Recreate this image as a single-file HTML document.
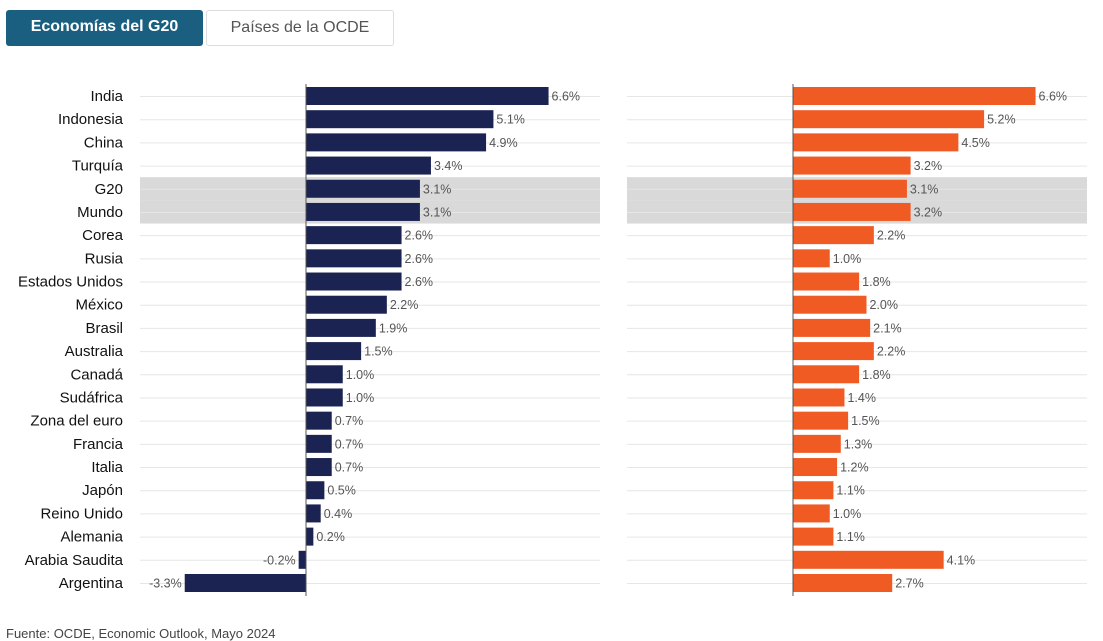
<!DOCTYPE html>
<html><head><meta charset="utf-8"><style>
body{margin:0;width:1103px;height:631px;overflow:hidden;background:#fff;font-family:"Liberation Sans",sans-serif;}
.tab{position:absolute;top:10px;height:36px;box-sizing:border-box;font-size:16px;font-weight:bold;line-height:33px;text-align:center;border-radius:3px;}
</style></head><body>
<div class="tab" style="left:6px;width:197px;background:#1b5f80;color:#fff;">Economías del G20</div>
<div class="tab" style="left:206px;width:188px;border:1px solid #ddd;color:#555;font-weight:normal;">Países de la OCDE</div>
<svg id="chart" width="1103" height="631" style="position:absolute;left:0;top:0"></svg>
<div style="position:absolute;left:6px;top:626px;font-size:13px;color:#444;">Fuente: OCDE, Economic Outlook, Mayo 2024</div>
<script>
const categories=["India","Indonesia","China","Turquía","G20","Mundo","Corea","Rusia","Estados Unidos","México","Brasil","Australia","Canadá","Sudáfrica","Zona del euro","Francia","Italia","Japón","Reino Unido","Alemania","Arabia Saudita","Argentina"];
const series2024=[6.6,5.1,4.9,3.4,3.1,3.1,2.6,2.6,2.6,2.2,1.9,1.5,1.0,1.0,0.7,0.7,0.7,0.5,0.4,0.2,-0.2,-3.3];
const series2025=[6.6,5.2,4.5,3.2,3.1,3.2,2.2,1.0,1.8,2.0,2.1,2.2,1.8,1.4,1.5,1.3,1.2,1.1,1.0,1.1,4.1,2.7];
const highlighted=["G20","Mundo"];
const NS="http://www.w3.org/2000/svg";
const svg=document.getElementById('chart');
const y0=96,step=(583-96)/(categories.length-1),scale=36.75,bh=18;
const yPos=i=>y0+i*step;
function mk(tag,attrs){const e=document.createElementNS(NS,tag);for(const k in attrs)e.setAttribute(k,attrs[k]);svg.appendChild(e);return e;}
const panels=[{zero:306,gx0:140,gx1:600,data:series2024,color:"#1a2351",name:"left"},{zero:793,gx0:627,gx1:1087,data:series2025,color:"#f05a23",name:"right"}];
panels.forEach(p=>{
  categories.forEach((c,i)=>{
    if(highlighted.includes(c)){
      const r=mk('rect',{x:p.gx0,y:yPos(i)-step/2,width:p.gx1-p.gx0,height:step,fill:'#d9d9d9'});
      
      
    }
    const g=mk('line',{x1:p.gx0,x2:p.gx1,y1:yPos(i)+0.5,y2:yPos(i)+0.5,stroke:'#e6e6e6'});
    
    
  });
});
panels.forEach(p=>{
  p.data.forEach((v,i)=>{
    const x=v>=0?p.zero:p.zero+v*scale,w=Math.abs(v)*scale;
    const b=mk('rect',{x:x,y:yPos(i)-bh/2,width:w,height:bh,fill:p.color});
    
    
    const t=mk('text',{x:v>=0?x+w+3:x-3,y:yPos(i)+4.5,'font-size':12.5,fill:'#555','text-anchor':v>=0?'start':'end','font-family':'Liberation Sans, sans-serif'});
    t.textContent=v.toFixed(1)+'%';
    
    
  });
  const a=mk('line',{x1:p.zero,x2:p.zero,y1:84,y2:596,stroke:'#555','stroke-width':1});
  
  
});
categories.forEach((c,i)=>{
  const t=mk('text',{x:123,y:yPos(i)+5,'font-size':15,fill:'#111','text-anchor':'end','font-family':'Liberation Sans, sans-serif'});
  t.textContent=c;
  
  
});
</script>
</body></html>
